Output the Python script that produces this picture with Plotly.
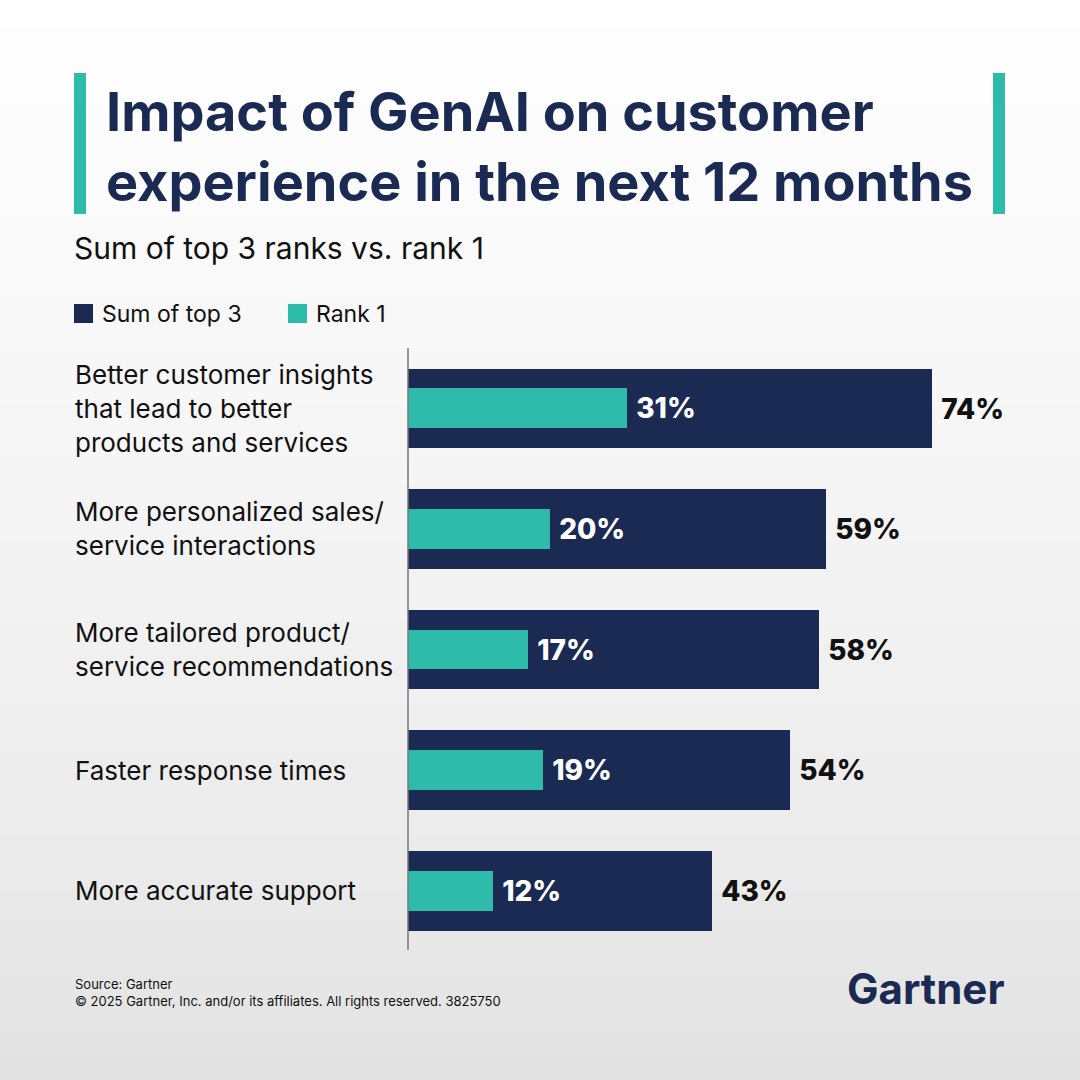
import plotly.graph_objects as go

categories = [
    "Better customer insights<br>that lead to better<br>products and services",
    "More personalized sales/<br>service interactions",
    "More tailored product/<br>service recommendations",
    "Faster response times",
    "More accurate support",
]
sum_top3 = [74, 59, 58, 54, 43]
rank1 = [31, 20, 17, 19, 12]
series_names = ["Sum of top 3", "Rank 1"]

NAVY = "#1b2a52"
TEAL = "#2ebbaa"
W, H = 1080, 1080

fig = go.Figure()
fig.add_trace(go.Bar(
    y=categories, x=sum_top3, orientation="h", name=series_names[0],
    marker=dict(color=NAVY, line_width=0), width=0.66,
    text=[f" {v}%" for v in sum_top3], textposition="outside",
    textfont=dict(family="Inter", size=28, color="#111111", weight=800),
    cliponaxis=False, showlegend=False,
))
fig.add_trace(go.Bar(
    y=categories, x=rank1, orientation="h", name=series_names[1],
    marker=dict(color=TEAL, line_width=0), width=0.33,
    text=[f" {v}%" for v in rank1], textposition="outside",
    textfont=dict(family="Inter", size=28, color="white", weight=800),
    cliponaxis=False, showlegend=False,
))

# background gradient bands
shapes = []
n = 40
for i in range(n):
    y0 = i / n
    g = int(226 + 29 * (i / (n - 1)) ** 0.7)
    shapes.append(dict(type="rect", xref="paper", yref="paper", x0=-1, x1=2,
                       y0=y0, y1=y0 + 1 / n + 0.001, line_width=0,
                       fillcolor=f"rgb({g},{g},{g})", layer="below"))
# teal title brackets
for x0 in (74, 993):
    shapes.append(dict(type="rect", xref="paper", yref="paper",
                       x0=x0 / W, x1=(x0 + 12) / W, y0=1 - 214 / H, y1=1 - 73 / H,
                       fillcolor=TEAL, line_width=0))
# axis line
shapes.append(dict(type="line", xref="paper", yref="paper",
                   x0=408 / W, x1=408 / W, y0=1 - 950 / H, y1=1 - 348 / H,
                   line=dict(color="#777777", width=1.5)))

annotations = [
    dict(text="<b>Impact of GenAI on customer<br>experience in the next 12 months</b>",
         x=104 / W, y=1 - 147 / H, xanchor="left", yanchor="middle",
         font=dict(family="Inter", size=54, color=NAVY), align="left"),
    dict(text="Sum of top 3 ranks vs. rank 1", x=72 / W, y=1 - 248 / H,
         xanchor="left", yanchor="middle", font=dict(family="Inter", size=30, color="#111111")),
    dict(text="Source: Gartner<br>© 2025 Gartner, Inc. and/or its affiliates. All rights reserved. 3825750",
         x=73 / W, y=1 - 992 / H, xanchor="left", yanchor="middle", align="left",
         font=dict(family="Inter", size=13, color="#111111")),
    dict(text="<b>Gartner</b>", x=1006 / W, y=1 - 988 / H, xanchor="right", yanchor="middle",
         font=dict(family="Inter", size=42, color=NAVY)),
]
# custom legend
for name, color, lx in zip(series_names, [NAVY, TEAL], [74, 288]):
    shapes.append(dict(type="rect", xref="paper", yref="paper",
                       x0=lx / W, x1=(lx + 19) / W, y0=1 - 323 / H, y1=1 - 304 / H,
                       fillcolor=color, line_width=0))
    annotations.append(dict(text=name, x=(lx + 26) / W, y=1 - 314 / H,
                            xanchor="left", yanchor="middle",
                            font=dict(family="Inter", size=23, color="#111111")))
for c in categories:
    annotations.append(dict(text=c, x=73 / W, y=c, xref="paper", yref="y",
                            xanchor="left", yanchor="middle", align="left",
                            font=dict(family="Inter", size=26, color="#111111")))
for a in annotations:
    a.setdefault("xref", "paper")
    a.setdefault("yref", "paper")
    a["showarrow"] = False

fig.update_layout(
    width=W, height=H, margin=dict(l=0, r=0, t=0, b=0),
    paper_bgcolor="white", plot_bgcolor="rgba(0,0,0,0)",
    barmode="overlay", bargap=0, showlegend=False,
    xaxis=dict(domain=[408 / W, 1], range=[0, (W - 408) / 7.08],
               visible=False, fixedrange=True),
    yaxis=dict(domain=[1 - 951 / H, 1 - 348 / H], autorange="reversed",
               showticklabels=False, showgrid=False, zeroline=False),
    shapes=shapes, annotations=annotations,
)
fig.write_html("out.html", config={"displayModeBar": False},
               post_script="document.body.style.margin='0';")
